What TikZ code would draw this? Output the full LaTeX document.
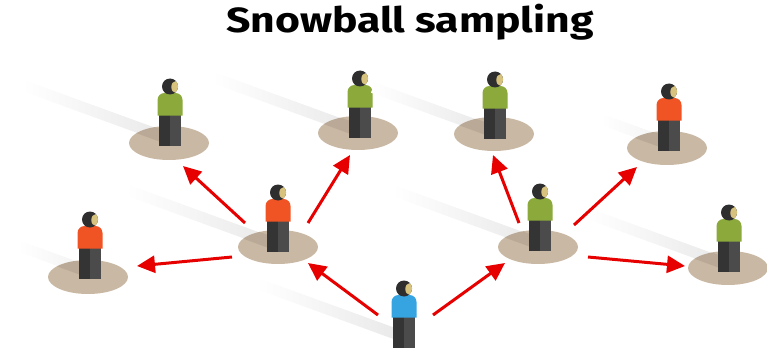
\documentclass[tikz,border=0pt]{standalone}
\usepackage{fontspec}
\usetikzlibrary{arrows.meta,calc,shapes.geometric}
\newfontfamily\titlefont[FakeStretch=1.22]{Fira Sans}

\definecolor{basetan}{HTML}{C9B8A3}
\definecolor{shirtgreen}{HTML}{8BAA3B}
\definecolor{shirtorange}{HTML}{F05424}
\definecolor{shirtblue}{HTML}{37A4E2}
\definecolor{pantsdark}{HTML}{343434}
\definecolor{pantslight}{HTML}{4B4B4B}
\definecolor{hair}{HTML}{2E2E2E}
\definecolor{skin}{HTML}{D7C37E}
\definecolor{shadowgrey}{HTML}{E8E8E8}
\definecolor{linkred}{HTML}{E60000}

\tikzset{
  base/.style={ellipse, fill=basetan, minimum width=80pt, minimum height=34pt, inner sep=0pt},
  link/.style={draw=linkred, line width=3pt, -{Triangle[length=18pt,width=17pt]}},
  pics/person/.style={code={
    % legs
    \fill[pantsdark]  (-11,0) rectangle (0,31);
    \fill[pantslight] (0,0) rectangle (11,31);
    % shirt with rounded shoulders
    \fill[#1] (-12.5,30.5) -- (-12.5,46) arc[start angle=180,end angle=90,radius=7pt]
              -- (5.5,53) arc[start angle=90,end angle=0,radius=7pt] -- (12.5,30.5) -- cycle;
    % head and face
    \fill[hair] (0,59.5) circle[radius=8pt];
    \begin{scope}
      \clip (0,59.5) circle[radius=8pt];
      \fill[skin] (5.5,59) ellipse[x radius=4.2pt, y radius=5.8pt];
    \end{scope}
  }}
}

% shadow band cast towards the upper left from the feet #1, length #2, strength #3
\newcommand\castband[3]{%
  \shade[left color=white, right color=shadowgrey!#3!white]
    ($(#1)+(0,7)+(70:5.5)$) -- ($(#1)+(0,7)+(250:5.5)$) -- ++(160:#2)
    -- ($(#1)+(0,7)+(70:5.5)+(160:#2)$) -- cycle;}

% a standing person on a round base: name, base centre, feet, shirt colour, shadow length, strength
\newcommand\station[6]{%
  \coordinate (#1feet) at #3;
  \castband{#1feet}{#5}{#6}
  \node[base] (#1) at #2 {};
  \begin{scope}
    \clip (#1.center) ellipse[x radius=40pt, y radius=17pt];
    \fill[black, opacity=.08] ($(#1feet)+(0,7)+(70:6)$) -- ($(#1feet)+(0,7)+(250:6)$)
      -- ++(160:70) -- ($(#1feet)+(0,7)+(70:6)+(160:70)$) -- cycle;
  \end{scope}
  \pic at (#1feet) {person=#4};}

\begin{document}
\begin{tikzpicture}[x=1pt,y=1pt]
\useasboundingbox (0,0) rectangle (767,-350);

\node[anchor=base, font=\titlefont\bfseries\fontsize{35}{40}\selectfont] (title) at (410,-33) {Snowball sampling};

% the seed person at the bottom
\coordinate (b9) at (404,-344);
\castband{b9}{155}{100}
\pic at (404,-348) {person=shirtblue};

% recruited people
\station{b1}{(169,-143)}{(170,-146)}{shirtgreen}{155}{100}
\station{b2}{(88,-277)}{(90,-279)}{shirtorange}{75}{60}
\station{b3}{(278,-247)}{(278,-252)}{shirtorange}{160}{100}
\station{b4}{(358,-133)}{(360,-138)}{shirtgreen}{155}{100}
\station{b5}{(494,-134)}{(495,-139)}{shirtgreen}{130}{100}
\station{b6}{(667,-148)}{(669,-151)}{shirtorange}{70}{60}
\station{b7}{(538,-247)}{(540,-251)}{shirtgreen}{155}{100}
\station{b8}{(728,-268)}{(729,-272)}{shirtgreen}{150}{100}

% referral arrows
\draw[link] ([shift={(-26,29)}]b9) -- ([shift={(30,-16)}]b3.center);
\draw[link] ([shift={(29,29)}]b9) -- ([shift={(-33,-16)}]b7.center);
\draw[link] ([shift={(-46,-10)}]b3.center) -- ([shift={(49,11)}]b2.center);
\draw[link] ([shift={(-33,24)}]b3.center) -- ([shift={(14,-23)}]b1.center);
\draw[link] ([shift={(30,24)}]b3.center) -- ([shift={(-8,-22)}]b4.center);
\draw[link] ([shift={(-19,24)}]b7.center) -- ([shift={(-1,-21)}]b5.center);
\draw[link] ([shift={(36,22)}]b7.center) -- ([shift={(-30,-19)}]b6.center);
\draw[link] ([shift={(50,-10)}]b7.center) -- ([shift={(-43,2)}]b8.center);
\end{tikzpicture}
\end{document}
